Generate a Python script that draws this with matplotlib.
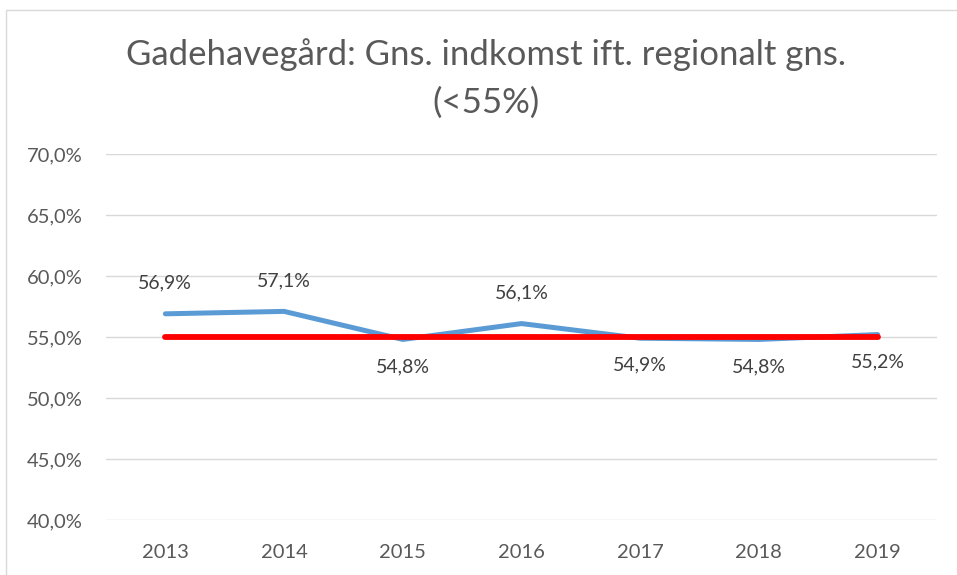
import matplotlib.pyplot as plt
from matplotlib.patches import Rectangle

# data
years = ['2013', '2014', '2015', '2016', '2017', '2018', '2019']
indkomst = [56.9, 57.1, 54.8, 56.1, 54.9, 54.8, 55.2]
graense = [55.0, 55.0, 55.0, 55.0, 55.0, 55.0, 55.0]
label_pos = ['over', 'over', 'under', 'over', 'under', 'under', 'under']
yticks = [40, 45, 50, 55, 60, 65, 70]

W, H = 957, 575
plt.rcParams['font.family'] = ['Lato', 'DejaVu Sans']

fig = plt.figure(figsize=(W / 100, H / 100), dpi=100)
ax = fig.add_axes([106 / W, 1 - 520 / H, (937 - 106) / W, (520 - 154) / H])

# ramme rundt om diagrammet
fig.patches.append(Rectangle((6 / W, -0.1), 1.2, 1 - 10 / H + 0.1, transform=fig.transFigure,
                             fill=False, edgecolor='#D9D9D9', linewidth=1))

x = list(range(len(years)))
ax.plot(x, indkomst, color='#5B9BD5', linewidth=3.6, solid_capstyle='round', zorder=3)
ax.plot(x, graense, color='#FF0000', linewidth=4.2, solid_capstyle='round', zorder=4)

for i, (v, p) in enumerate(zip(indkomst, label_pos)):
    off = 31 if p == 'over' else -27
    ax.annotate(f'{v:.1f}%'.replace('.', ','), (i, v), xytext=(0, off), textcoords='offset pixels',
                ha='center', va='center', fontsize=14, color='#404040')

ax.set_xlim(-0.5, 6.5)
ax.set_ylim(40, 70)
ax.set_yticks(yticks)
ax.set_yticklabels([f'{t:.1f}%'.replace('.', ',') for t in yticks])
ax.set_xticks(x)
ax.set_xticklabels(years)
ax.tick_params(axis='both', length=0, labelsize=14.5, labelcolor='#595959')
ax.tick_params(axis='y', pad=17)
ax.tick_params(axis='x', pad=17)
ax.grid(axis='y', color='#D9D9D9', linewidth=1)
ax.set_axisbelow(True)
for s in ax.spines.values():
    s.set_visible(False)

fig.text(486 / W, 1 - 65 / H, 'Gadehavegård: Gns. indkomst ift. regionalt gns.', ha='center',
         va='baseline', fontsize=25, color='#595959')
fig.text(486 / W, 1 - 113 / H, '(<55%)', ha='center', va='baseline', fontsize=25, color='#595959')

fig.savefig('out.png', dpi=100)
